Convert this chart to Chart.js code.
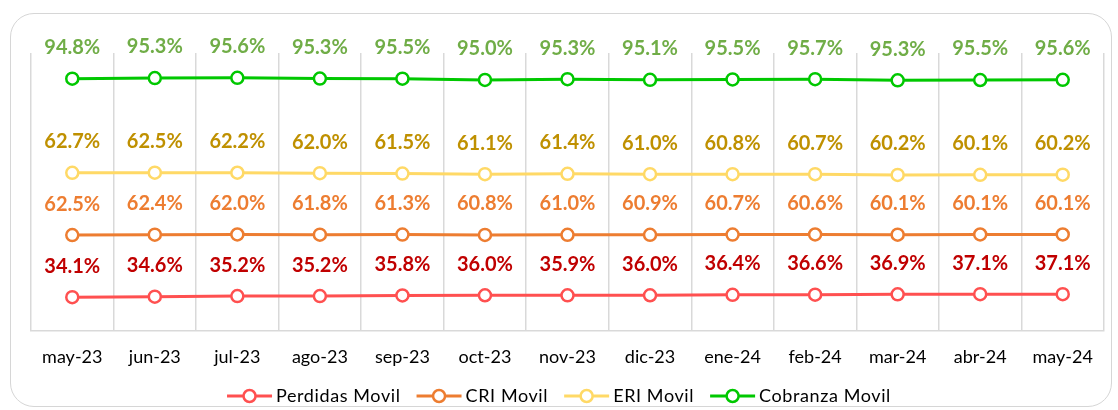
<!DOCTYPE html>
<html>
<head>
<meta charset="utf-8">
<script src="https://cdn.jsdelivr.net/npm/chart.js@4.4.1/dist/chart.umd.min.js"></script>
<style>
    html, body { margin: 0; padding: 0; background: #ffffff; }
    #wrap { position: relative; width: 1118px; height: 410px; overflow: hidden; }
    #frame {
        position: absolute; left: 10px; top: 13px; width: 1102px; height: 394px;
        border: 1.5px solid #d6d6d6; border-radius: 24px; box-sizing: border-box;
    }
    #chart { position: absolute; left: 0; top: 0; }
</style>
</head>
<body>
<div id="wrap">
    <div id="frame"></div>
    <canvas id="chart" width="1118" height="410"></canvas>
</div>
<script>
// Datos del grafico
const meses = ['may-23', 'jun-23', 'jul-23', 'ago-23', 'sep-23', 'oct-23', 'nov-23', 'dic-23', 'ene-24', 'feb-24', 'mar-24', 'abr-24', 'may-24'];
const perdidasMovil = [34.1, 34.6, 35.2, 35.2, 35.8, 36.0, 35.9, 36.0, 36.4, 36.6, 36.9, 37.1, 37.1];
const criMovil = [62.5, 62.4, 62.0, 61.8, 61.3, 60.8, 61.0, 60.9, 60.7, 60.6, 60.1, 60.1, 60.1];
const eriMovil = [62.7, 62.5, 62.2, 62.0, 61.5, 61.1, 61.4, 61.0, 60.8, 60.7, 60.2, 60.1, 60.2];
const cobranzaMovil = [94.8, 95.3, 95.6, 95.3, 95.5, 95.0, 95.3, 95.1, 95.5, 95.7, 95.3, 95.5, 95.6];

const FONT = 'Lato, "Open Sans", sans-serif';

function serie(label, data, color, labelColor) {
    return {
        label: label,
        data: data,
        borderColor: color,
        backgroundColor: '#ffffff',
        borderWidth: 3,
        pointRadius: 6,
        pointBorderWidth: 2.5,
        pointBackgroundColor: '#ffffff',
        pointBorderColor: color,
        tension: 0,
        fill: false,
        labelColor: labelColor
    };
}

// Etiquetas de valor encima de cada punto
const valueLabels = {
    id: 'valueLabels',
    afterDatasetsDraw(chart) {
        const ctx = chart.ctx;
        ctx.save();
        ctx.font = 'bold 20px ' + FONT;
        ctx.textAlign = 'center';
        ctx.textBaseline = 'middle';
        chart.data.datasets.forEach((ds, i) => {
            const meta = chart.getDatasetMeta(i);
            ctx.fillStyle = ds.labelColor;
            meta.data.forEach((pt, j) => {
                ctx.fillText(ds.data[j].toFixed(1) + '%', pt.x, pt.y - 31);
            });
        });
        ctx.restore();
    }
};

// Leyenda dibujada a mano (linea + circulo)
const lineLegend = {
    id: 'lineLegend',
    afterDraw(chart) {
        const ctx = chart.ctx;
        ctx.save();
        ctx.font = '18px ' + FONT;
        if ('letterSpacing' in ctx) ctx.letterSpacing = '0.6px';
        ctx.textBaseline = 'middle';
        const iconW = 45, gapText = 4, gapItem = 16;
        const items = chart.data.datasets.map(ds => ({ ds: ds, w: ctx.measureText(ds.label).width }));
        let total = 0;
        items.forEach((it, i) => { total += iconW + gapText + it.w + (i < items.length - 1 ? gapItem : 0); });
        let x = chart.width / 2 - total / 2;
        const y = 396;
        items.forEach(it => {
            ctx.strokeStyle = it.ds.borderColor;
            ctx.lineWidth = 3;
            ctx.beginPath();
            ctx.moveTo(x, y);
            ctx.lineTo(x + iconW, y);
            ctx.stroke();
            ctx.beginPath();
            ctx.arc(x + iconW / 2, y, 6, 0, Math.PI * 2);
            ctx.fillStyle = '#ffffff';
            ctx.fill();
            ctx.lineWidth = 2.5;
            ctx.stroke();
            ctx.fillStyle = '#000000';
            ctx.fillText(it.ds.label, x + iconW + gapText, y);
            x += iconW + gapText + it.w + gapItem;
        });
        ctx.restore();
    }
};

new Chart(document.getElementById('chart'), {
    type: 'line',
    data: {
        labels: meses,
        datasets: [
            serie('Perdidas Movil', perdidasMovil, '#ff5050', '#c00000'),
            serie('CRI Movil', criMovil, '#ed7d31', '#ed7d31'),
            serie('ERI Movil', eriMovil, '#ffd966', '#bf9000'),
            serie('Cobranza Movil', cobranzaMovil, '#00c800', '#70ad47')
        ]
    },
    options: {
        responsive: false,
        animation: false,
        devicePixelRatio: 1,
        layout: { padding: { left: 31, right: 14, top: 53, bottom: 0 } },
        plugins: {
            legend: { display: false },
            tooltip: { enabled: false }
        },
        scales: {
            x: {
                offset: true,
                grid: { offset: true, color: '#d9d9d9', lineWidth: 1.5, drawTicks: false },
                border: { color: '#d9d9d9', width: 1.5 },
                ticks: { color: '#000000', font: { family: FONT, size: 18 }, padding: 15, maxRotation: 0 },
                afterFit(scale) { scale.height = 79; }
            },
            y: {
                display: false,
                stacked: true,
                min: 0,
                max: 280
            }
        }
    },
    plugins: [valueLabels, lineLegend]
});
</script>
</body>
</html>
